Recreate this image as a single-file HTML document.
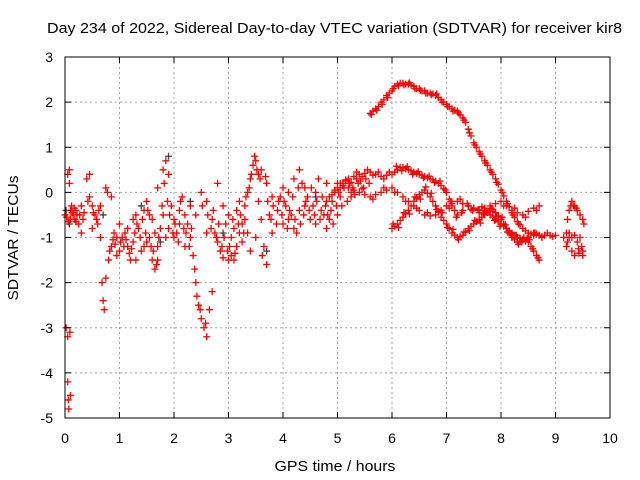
<!DOCTYPE html>
<html><head><meta charset="utf-8"><style>
html,body{margin:0;padding:0;background:#fff;}
svg{display:block;font-family:"Liberation Sans",sans-serif;}
</style></head><body>
<svg id="chart" width="640" height="480" viewBox="0 0 640 480">
<rect width="640" height="480" fill="#fff"/>
<text x="47" y="33" font-size="15" textLength="575" lengthAdjust="spacingAndGlyphs">Day 234 of 2022, Sidereal Day-to-day VTEC variation (SDTVAR) for receiver kir8</text>
<text x="335" y="471" font-size="15" textLength="121" lengthAdjust="spacingAndGlyphs" text-anchor="middle">GPS time / hours</text>
<text x="0" y="0" font-size="15" text-anchor="middle" textLength="125" lengthAdjust="spacingAndGlyphs" transform="translate(18,238) rotate(-90)">SDTVAR / TECUs</text>
<g id="grid"></g>
<g id="marks"></g>
<g id="axes"></g>
</svg>
<script>
const xTicks=[0,1,2,3,4,5,6,7,8,9,10];
const yTicks=[3,2,1,0,-1,-2,-3,-4,-5];
const trackTop=[[5.6,1.75],[5.65,1.8],[5.7,1.85],[5.75,1.9],[5.8,2.0],[5.85,2.05],[5.9,2.15],[5.95,2.2],[6.0,2.25],[6.05,2.35],[6.1,2.4],[6.15,2.42],[6.2,2.42],[6.25,2.4],[6.3,2.4],[6.35,2.38],[6.4,2.35],[6.45,2.3],[6.5,2.3],[6.55,2.25],[6.6,2.25],[6.65,2.2],[6.7,2.2],[6.75,2.18],[6.8,2.15],[6.85,2.1],[6.9,2.05],[6.95,2.0],[7.0,1.95],[7.05,1.9],[7.1,1.85],[7.15,1.82],[7.2,1.8],[7.25,1.72],[7.3,1.65],[7.35,1.55],[7.4,1.4],[7.45,1.25],[7.5,1.1],[7.55,1.0],[7.6,0.9],[7.65,0.8],[7.7,0.7],[7.75,0.6],[7.8,0.5],[7.85,0.4],[7.9,0.3],[7.95,0.18],[8.0,0.05],[8.05,-0.08],[8.1,-0.2],[8.15,-0.32],[8.2,-0.45],[8.25,-0.55],[8.3,-0.65],[8.35,-0.72],[8.4,-0.8],[8.5,-0.9],[8.6,-0.9],[8.7,-0.95],[8.8,-0.95],[8.9,-0.95],[9.0,-0.95]];
const trackTopB=[[5.62,1.72],[5.72,1.82],[5.82,1.95],[5.92,2.1],[6.02,2.3],[6.12,2.36],[6.22,2.38],[6.32,2.43],[6.42,2.3],[6.52,2.26],[6.62,2.2],[6.72,2.16],[6.82,2.18],[6.92,2.0],[7.02,1.9],[7.12,1.8],[7.22,1.76],[7.32,1.6],[7.42,1.32],[7.52,1.05],[7.62,0.85],[7.72,0.65],[7.82,0.45],[7.92,0.22],[8.02,0.0],[8.12,-0.25],[8.22,-0.5],[8.32,-0.7],[8.45,-0.85],[8.55,-0.92],[8.65,-0.92],[8.75,-0.98],[8.85,-0.9],[8.95,-0.98]];
const trackMid=[[4.8,-0.2],[4.9,-0.05],[5.0,0.1],[5.1,0.2],[5.2,0.3],[5.3,0.35],[5.4,0.4],[5.5,0.42],[5.6,0.45],[5.7,0.4],[5.8,0.35],[5.9,0.38],[6.0,0.4],[6.05,0.45],[6.1,0.5],[6.15,0.55],[6.2,0.55],[6.25,0.52],[6.3,0.5],[6.35,0.48],[6.4,0.45],[6.45,0.42],[6.5,0.4],[6.55,0.38],[6.6,0.35],[6.65,0.32],[6.7,0.3],[6.75,0.28],[6.8,0.25],[6.85,0.2],[6.9,0.15],[6.95,0.08],[7.0,0.0],[7.05,-0.15],[7.1,-0.3],[7.15,-0.4],[7.2,-0.5],[7.3,-0.4],[7.4,-0.3],[7.5,-0.35],[7.6,-0.45],[7.7,-0.4],[7.8,-0.5],[7.85,-0.55],[7.9,-0.6],[7.95,-0.65],[8.0,-0.7],[8.05,-0.75],[8.1,-0.8],[8.15,-0.85],[8.2,-0.9],[8.25,-0.95],[8.3,-1.0],[8.35,-1.02],[8.4,-1.05],[8.45,-1.08],[8.5,-1.1],[8.55,-1.2],[8.6,-1.3],[8.65,-1.4],[8.7,-1.5]];
const trackMidB=[[4.85,-0.1],[4.95,0.05],[5.05,0.2],[5.15,0.28],[5.25,0.22],[5.35,0.45],[5.45,0.35],[5.55,0.5],[5.65,0.38],[5.75,0.45],[5.85,0.3],[5.95,0.45],[6.08,0.58],[6.18,0.48],[6.28,0.57],[6.38,0.4],[6.48,0.46],[6.58,0.32],[6.68,0.36],[6.78,0.22],[6.88,0.25],[6.98,0.05],[7.08,-0.2],[7.18,-0.55],[7.28,-0.45],[7.38,-0.25],[7.48,-0.4],[7.58,-0.38],[7.68,-0.48],[7.78,-0.42],[7.88,-0.62],[7.98,-0.75],[8.08,-0.72],[8.18,-0.92],[8.28,-0.95],[8.38,-1.1],[8.48,-1.02],[8.58,-1.25],[8.68,-1.45]];
const trackLow=[[6.0,-0.8],[6.05,-0.75],[6.1,-0.7],[6.15,-0.62],[6.2,-0.55],[6.25,-0.48],[6.3,-0.4],[6.35,-0.3],[6.4,-0.2],[6.45,-0.12],[6.5,-0.05],[6.55,0.0],[6.6,0.05],[6.65,-0.02],[6.7,-0.1],[6.75,-0.2],[6.8,-0.3],[6.85,-0.42],[6.9,-0.55],[6.95,-0.62],[7.0,-0.7],[7.05,-0.8],[7.1,-0.9],[7.15,-0.95],[7.2,-1.0],[7.25,-0.98],[7.3,-0.95],[7.35,-0.88],[7.4,-0.8],[7.45,-0.75],[7.5,-0.7],[7.55,-0.65],[7.6,-0.6],[7.65,-0.55],[7.7,-0.5],[7.75,-0.45],[7.8,-0.4],[7.85,-0.42],[7.9,-0.45],[7.95,-0.52],[8.0,-0.6],[8.05,-0.7],[8.1,-0.8],[8.15,-0.9],[8.2,-1.0],[8.25,-1.05],[8.3,-1.1],[8.35,-1.08],[8.4,-1.05],[8.5,-1.0],[8.6,-0.95],[8.7,-0.95]];
const trackLowB=[[6.02,-0.7],[6.12,-0.78],[6.22,-0.45],[6.32,-0.48],[6.42,-0.1],[6.52,-0.15],[6.62,0.12],[6.72,-0.02],[6.82,-0.38],[6.92,-0.45],[7.02,-0.78],[7.12,-0.82],[7.22,-1.05],[7.32,-0.88],[7.42,-0.85],[7.52,-0.62],[7.62,-0.68],[7.72,-0.42],[7.82,-0.35],[7.92,-0.52],[8.02,-0.55],[8.12,-0.88],[8.22,-0.95],[8.32,-1.15],[8.42,-1.0],[8.52,-1.05],[8.62,-0.9],[8.75,-1.0]];
const trackD=[[5.0,0.2],[5.1,0.15],[5.2,0.1],[5.3,0.05],[5.4,0.0],[5.5,-0.05],[5.6,-0.1],[5.7,-0.05],[5.8,0.0],[5.9,0.05],[6.0,0.1],[6.1,0.0],[6.2,-0.1],[6.3,-0.2],[6.4,-0.3],[6.5,-0.4],[6.6,-0.5],[6.7,-0.52],[6.8,-0.5],[6.9,-0.4],[7.0,-0.3],[7.1,-0.25],[7.2,-0.2],[7.3,-0.25],[7.4,-0.3],[7.5,-0.35],[7.6,-0.4],[7.7,-0.35],[7.8,-0.3],[7.9,-0.25],[8.0,-0.2],[8.1,-0.3],[8.2,-0.4],[8.3,-0.45],[8.4,-0.5],[8.5,-0.42],[8.6,-0.35],[8.7,-0.3],[5.05,0.1],[5.25,0.0],[5.45,0.08],[5.65,-0.15],[5.85,0.1],[6.05,0.0],[6.25,-0.2],[6.45,-0.35],[6.65,-0.45],[6.85,-0.42],[7.05,-0.35],[7.25,-0.15],[7.45,-0.38],[7.65,-0.32],[7.85,-0.38],[8.05,-0.3],[8.25,-0.35],[8.45,-0.55],[8.65,-0.4]];
const trackRight=[[9.2,-0.9],[9.22,-0.6],[9.25,-0.4],[9.3,-0.2],[9.33,-0.3],[9.35,-0.3],[9.4,-0.4],[9.45,-0.5],[9.5,-0.6],[9.2,-1.2],[9.25,-1.0],[9.3,-1.0],[9.35,-0.95],[9.4,-1.1],[9.45,-1.0],[9.5,-1.3],[9.35,-1.4],[9.25,-0.9],[9.3,-1.3],[9.42,-1.25],[9.48,-1.2],[9.15,-1.0],[9.28,-0.3],[9.38,-0.35],[9.43,-1.35],[9.5,-1.4],[9.52,-0.7],[9.22,-1.1]];
const cloud=[[0.0,-0.5],[0.02,-3.0],[0.05,-3.2],[0.05,0.4],[0.08,0.2],[0.1,-0.6],[0.05,-4.2],[0.07,-4.8],[0.1,-4.5],[0.12,-0.3],[0.15,-0.5],[0.2,-0.4],[0.25,-0.7],[0.3,-0.3],[0.4,0.3],[0.45,0.4],[0.5,-0.3],[0.55,-0.5],[0.6,-0.7],[0.65,-1.0],[0.7,-2.4],[0.72,-2.6],[0.75,-1.9],[0.75,0.1],[0.8,-1.5],[0.85,-1.2],[0.85,-0.1],[0.9,-0.9],[0.95,-1.0],[1.0,-1.3],[1.05,-1.0],[1.1,-0.9],[1.15,-1.2],[1.2,-1.5],[1.25,-1.1],[1.3,-0.5],[1.35,-0.8],[1.4,-1.3],[1.45,-0.4],[1.5,-0.2],[1.55,-1.0],[1.6,-1.5],[1.65,-1.7],[1.7,-1.2],[1.75,-0.8],[1.8,0.5],[1.85,0.7],[1.9,0.4],[1.95,-0.3],[2.0,-0.6],[2.05,-0.9],[2.1,-0.4],[2.15,-0.1],[2.2,-0.5],[2.25,-0.7],[2.3,-1.0],[2.35,-1.4],[2.4,-2.0],[2.45,-2.5],[2.5,-2.8],[2.55,-3.0],[2.6,-3.2],[2.65,-2.6],[2.7,-2.2],[2.5,0.0],[2.6,-0.2],[2.7,-0.6],[2.8,-1.1],[2.85,-1.3],[2.9,-1.45],[3.0,-1.5],[3.05,-1.4],[3.1,-1.5],[3.15,-1.2],[3.2,-0.9],[3.25,-0.7],[3.3,-0.3],[3.35,0.0],[3.4,0.3],[3.45,0.6],[3.5,0.7],[3.55,0.4],[3.6,0.5],[3.65,-1.2],[3.7,-1.6],[3.5,-1.0],[3.4,-1.3],[3.0,-0.5],[3.1,-0.8],[2.9,-0.3],[2.8,0.2],[3.2,-0.2],[3.3,-0.6],[3.7,0.2],[3.8,-0.1],[3.9,-0.4],[4.0,-0.7],[4.05,-0.3],[4.1,0.0],[4.15,-0.5],[4.2,-0.8],[4.25,-0.9],[4.3,0.5],[4.35,0.2],[4.4,-0.3],[4.5,-0.6],[4.6,-0.7],[4.7,-0.4],[4.8,-0.8],[4.9,-0.2],[5.0,-0.5],[4.2,0.3],[4.4,0.1],[4.6,0.0],[4.8,0.2],[1.0,-0.7],[1.3,-1.5],[1.5,-1.1],[2.0,-1.0],[2.2,-1.2],[0.3,-0.9],[0.5,-0.8],[1.7,0.1],[1.9,-0.8],[2.4,-0.5],[2.6,-0.9],[3.6,-0.6],[3.8,-0.9],[4.0,0.1],[0.1,-0.4],[0.18,-0.6],[0.22,-0.5],[0.35,-0.45],[1.6,-0.6],[1.65,-0.9],[1.7,-1.5],[1.8,-0.5],[1.85,-1.0],[2.1,-0.7],[2.3,-0.3],[2.75,-0.9],[2.95,-0.7],[3.05,-1.0],[3.15,-0.4],[3.25,-1.1],[3.35,-0.9],[3.55,-0.2],[3.75,-0.5],[3.95,-0.1],[4.1,-0.6],[4.3,-0.4],[4.45,-0.1],[4.55,-0.3],[4.65,0.3],[4.75,-0.5],[4.85,-0.6],[4.95,0.0],[5.05,-0.1],[5.15,0.25],[5.25,-0.1],[5.35,0.3],[1.45,-1.2],[1.55,-0.5],[1.25,-0.6],[1.15,-0.8],[0.95,-1.4],[0.65,-0.3],[0.45,-0.1],
[0.03,-0.55],[0.06,-0.65],[0.08,0.5],[0.09,-3.1],[0.06,-4.6],[0.13,-0.45],[0.17,-0.35],[0.2,-0.65],[0.27,-0.5],[0.33,-0.6],[0.42,-0.2],[0.52,-0.45],[0.58,-0.6],[0.62,-0.4],[0.68,-2.0],[0.78,0.0],[0.82,-1.3],[0.88,-1.05],[0.92,-1.15],[1.02,-1.1],[1.08,-1.2],[1.12,-1.05],[1.18,-1.35],[1.22,-1.25],[1.28,-0.9],[1.32,-0.7],[1.38,-1.0],[1.42,-0.6],[1.48,-0.9],[1.52,-0.4],[1.58,-1.2],[1.62,-1.3],[1.68,-1.6],[1.72,-1.0],[1.78,-0.3],[1.82,0.2],[1.88,-0.2],[1.92,-0.5],[1.98,-0.9],[2.02,-0.7],[2.08,-1.1],[2.12,-0.2],[2.18,-0.8],[2.22,-0.9],[2.28,-1.2],[2.32,-0.8],[2.38,-1.7],[2.42,-2.3],[2.48,-2.6],[2.52,-0.3],[2.58,-2.9],[2.62,-0.5],[2.68,-0.8],[2.72,-0.4],[2.78,-1.0],[2.82,-0.7],[2.88,-1.2],[2.92,-1.0],[2.98,-1.3],[3.02,-1.2],[3.08,-0.6],[3.12,-1.35],[3.18,-0.7],[3.22,-0.5],[3.28,-0.9],[3.32,-0.1],[3.38,0.1],[3.42,0.4],[3.48,0.8],[3.52,0.5],[3.58,0.3],[3.62,-1.4],[3.68,0.35],[3.72,-0.2],[3.78,-0.6],[3.82,-0.3],[3.88,-0.7],[3.92,-0.2],[3.98,-0.5],[4.02,-0.2],[4.08,-0.8],[4.12,-0.4],[4.18,-0.1],[4.22,-0.6],[4.28,0.1],[4.32,-0.7],[4.38,-0.5],[4.42,-0.2],[4.48,-0.4],[4.52,0.1],[4.58,-0.5],[4.62,-0.2],[4.68,-0.6],[4.72,-0.1],[4.78,-0.3],[4.82,-0.5],[4.88,-0.4],[4.92,-0.7],[4.98,-0.3],[5.02,0.0],[5.08,-0.3],[5.12,0.1],[5.18,-0.2],[5.22,0.2],[5.28,0.1],[5.32,-0.05],[5.38,0.2],[5.42,0.25],[5.48,0.1],[5.52,0.3],[5.58,0.2]];
const grayPts=[[0.02,-0.4],[0.08,-0.7],[0.7,-0.5],[1.4,-0.3],[1.9,0.8],[2.3,-0.2],[3.7,-1.3],[4.6,-0.1],[1.75,-1.1],[2.9,-0.9]];
const L=65,R=610,T=57,B=418;
const xs=v=>L+(v-0)/(10-0)*(R-L);
const ys=v=>B-(v-(-5))/(3-(-5))*(B-T);
const NS='http://www.w3.org/2000/svg';
const grid=document.getElementById('grid'),axes=document.getElementById('axes'),marks=document.getElementById('marks');
function mk(tag,attrs,parent){const e=document.createElementNS(NS,tag);for(const k in attrs)e.setAttribute(k,attrs[k]);parent.appendChild(e);return e;}
xTicks.forEach(t=>{const x=xs(t);
 if(t>0&&t<10){const g=mk('line',{x1:x,y1:T,x2:x,y2:B,stroke:'#a0a0a0','stroke-dasharray':'2,3','stroke-width':1},grid);}
 mk('line',{x1:x,y1:B,x2:x,y2:B-6,stroke:'#000'},axes);mk('line',{x1:x,y1:T,x2:x,y2:T+6,stroke:'#000'},axes);
 const tx=mk('text',{x:x,y:443,'font-size':14,'text-anchor':'middle'},axes);tx.textContent=t;
 
 });
yTicks.forEach(t=>{const y=ys(t);
 if(t>-5&&t<3){const g=mk('line',{x1:L,y1:y,x2:R,y2:y,stroke:'#a0a0a0','stroke-dasharray':'2,3','stroke-width':1},grid);}
 mk('line',{x1:L,y1:y,x2:L+6,y2:y,stroke:'#000'},axes);mk('line',{x1:R,y1:y,x2:R-6,y2:y,stroke:'#000'},axes);
 const tx=mk('text',{x:53,y:y+5,'font-size':14,'text-anchor':'end'},axes);tx.textContent=t;
 
 });
const border=mk('rect',{x:L,y:T,width:R-L,height:B-T,fill:'none',stroke:'#000','stroke-width':1},axes);


function plus(p,color){const x=xs(p[0]),y=ys(p[1]);
 const e=mk('path',{d:`M${x-3.5},${y}H${x+3.5}M${x},${y-3.5}V${y+3.5}`,stroke:color,'stroke-width':1.3,fill:'none'},marks);
 
 }
grayPts.forEach(p=>plus(p,'#404040'));
[cloud,trackD,trackLow,trackLowB,trackMid,trackMidB,trackTop,trackTopB,trackRight].forEach(tr=>tr.forEach(p=>plus(p,'#ff0000')));
</script>
</body></html>
